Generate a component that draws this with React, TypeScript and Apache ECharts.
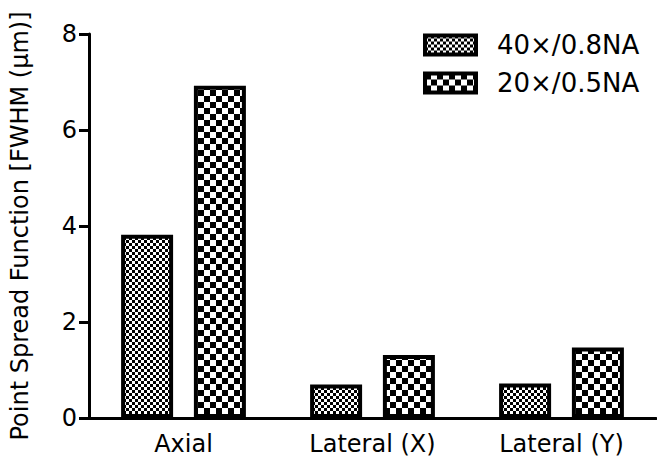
import React, { useEffect, useRef } from "react";
import * as echarts from "echarts";

const categories = ["Axial", "Lateral (X)", "Lateral (Y)"];
const seriesNames = ["40×/0.8NA", "20×/0.5NA"];
const values40x = [3.82, 0.7, 0.72];
const values20x = [6.92, 1.31, 1.47];
const yTicks = { min: 0, max: 8, interval: 2 };

function makeChecker(cell: number) {
  const c = document.createElement("canvas");
  c.width = cell * 2;
  c.height = cell * 2;
  const ctx = c.getContext("2d")!;
  ctx.fillStyle = "#fff";
  ctx.fillRect(0, 0, cell * 2, cell * 2);
  ctx.fillStyle = "#000";
  ctx.fillRect(0, 0, cell, cell);
  ctx.fillRect(cell, cell, cell, cell);
  return c;
}

export default function App() {
  const ref = useRef<HTMLDivElement>(null);
  useEffect(() => {
    document.body.style.margin = "0";
    const chart = echarts.init(ref.current!, null, { renderer: "svg" });
    const fine = { image: makeChecker(3), repeat: "repeat" };
    const coarse = { image: makeChecker(6), repeat: "repeat" };
    const font = "'DejaVu Sans', Verdana, sans-serif";
    chart.setOption({
      animation: false,
      textStyle: { fontFamily: font, color: "#000" },
      grid: { left: 79, right: 1, top: 34, bottom: 46, containLabel: false },
      legend: {
        orient: "vertical",
        left: 418,
        top: 21,
        padding: 5,
        itemWidth: 51,
        itemHeight: 19,
        itemGap: 0,
        icon: "rect",
        itemStyle: { borderColor: "#000", borderWidth: 4 },
        textStyle: { fontSize: 26, lineHeight: 38, color: "#000", fontFamily: font, padding: [0, 0, 0, 16] },
        data: seriesNames,
      },
      xAxis: {
        type: "category",
        data: categories,
        axisLine: { lineStyle: { color: "#000", width: 3 } },
        axisTick: { alignWithLabel: true, length: 10, lineStyle: { color: "#000", width: 3 } },
        axisLabel: { fontSize: 24, color: "#000", margin: 14, fontFamily: font },
      },
      yAxis: {
        type: "value",
        min: yTicks.min,
        max: yTicks.max,
        interval: yTicks.interval,
        name: "Point Spread Function [FWHM (μm)]",
        nameLocation: "middle",
        nameGap: 57,
        nameTextStyle: { fontSize: 24, color: "#000", fontFamily: font },
        axisLine: { show: true, lineStyle: { color: "#000", width: 3 } },
        axisTick: { show: true, length: 10, lineStyle: { color: "#000", width: 3 } },
        axisLabel: { fontSize: 24, color: "#000", margin: 12, fontFamily: font },
        splitLine: { show: false },
      },
      series: [
        {
          name: seriesNames[0],
          type: "bar",
          data: values40x,
          barWidth: 52,
          barGap: "40%",
          itemStyle: { color: fine, borderColor: "#000", borderWidth: 4 },
        },
        {
          name: seriesNames[1],
          type: "bar",
          data: values20x,
          barWidth: 52,
          barGap: "40%",
          itemStyle: { color: coarse, borderColor: "#000", borderWidth: 4 },
        },
      ],
    });
    return () => chart.dispose();
  }, []);
  return <div ref={ref} style={{ width: 657, height: 464 }} />;
}
